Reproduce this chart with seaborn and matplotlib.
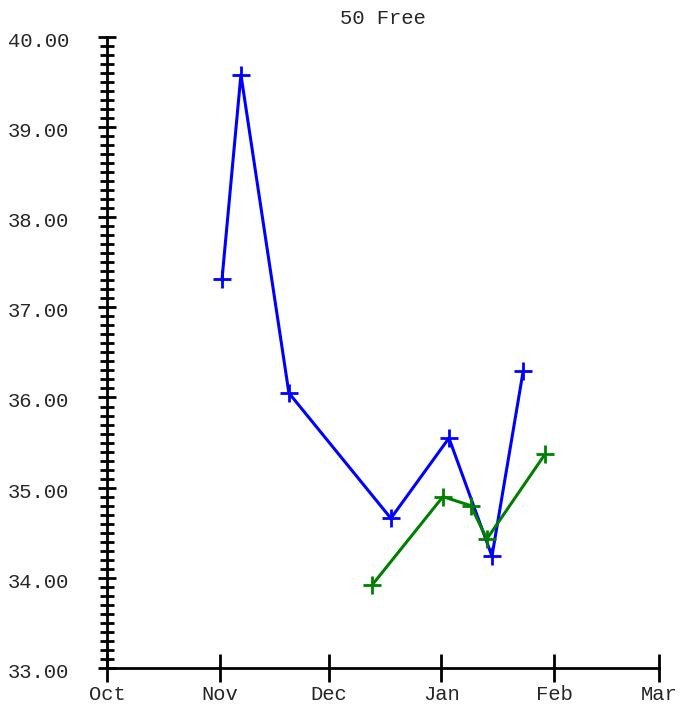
import matplotlib
matplotlib.use("Agg")
import matplotlib.dates as mdates
import matplotlib.pyplot as plt
import matplotlib.ticker as mticker
import matplotlib.transforms as mtransforms
import pandas as pd
import seaborn as sns

# race results, 50 free
blue_dates = ["2011-11-01 14:00", "2011-11-06 19:00", "2011-11-20 00:00", "2011-12-18 02:00",
              "2012-01-03 02:00", "2012-01-14 22:00", "2012-01-23 12:00"]
blue_times = [37.31, 39.58, 36.05, 34.66, 35.55, 34.24, 36.29]

green_dates = ["2011-12-12 22:00", "2012-01-01 10:00", "2012-01-09 02:00", "2012-01-13 12:00",
               "2012-01-29 12:00"]
green_times = [33.92, 34.90, 34.80, 34.43, 35.37]

month_ticks = ["2011-10-01", "2011-11-01", "2011-12-01", "2012-01-01", "2012-02-01", "2012-03-01"]
y_ticks = [33, 34, 35, 36, 37, 38, 39, 40]

df = pd.concat([
    pd.DataFrame({"date": pd.to_datetime(blue_dates), "time": blue_times, "swimmer": "a"}),
    pd.DataFrame({"date": pd.to_datetime(green_dates), "time": green_times, "swimmer": "b"}),
])

sns.set_style("white")
plt.rcParams["font.family"] = ["Liberation Mono", "DejaVu Sans Mono"]

fig = plt.figure(figsize=(6.8, 7.08), dpi=100)
ax = fig.add_axes([0.1578, 0.0565, 0.8118, 0.8915])

sns.lineplot(data=df, x="date", y="time", hue="swimmer", palette={"a": "#0000ff", "b": "#008000"},
             marker="+", markersize=13, markeredgewidth=2, linewidth=2.2, legend=False,
             sort=False, estimator=None, ax=ax)
# seaborn paints marker edges white, put the line colour back
for line in ax.lines:
    line.set_markeredgecolor(line.get_color())

ax.set_xlim(pd.Timestamp(month_ticks[0]), pd.Timestamp(month_ticks[-1]))
ax.set_ylim(y_ticks[0], y_ticks[-1])
ax.set_xticks(pd.to_datetime(month_ticks))
ax.xaxis.set_major_formatter(mdates.DateFormatter("%b"))
ax.set_yticks(y_ticks)
ax.yaxis.set_minor_locator(mticker.MultipleLocator(0.1))
ax.yaxis.set_major_formatter(mticker.FormatStrFormatter("%.2f"))

for side in ["top", "right"]:
    ax.spines[side].set_visible(False)
for side in ["left", "bottom"]:
    ax.spines[side].set_linewidth(2)
    ax.spines[side].set_color("black")

ax.tick_params(axis="y", which="major", direction="inout", length=13, width=2, pad=21,
               labelsize=14.8, left=True, color="black")
ax.tick_params(axis="y", which="minor", direction="inout", length=10, width=2, left=True, color="black")
ax.tick_params(axis="x", which="major", direction="inout", length=20, width=2, pad=2,
               labelsize=14.8, bottom=True, color="black")

# y labels sit a touch below their ticks in the original
shift = mtransforms.ScaledTranslation(0, -0.025, fig.dpi_scale_trans)
for label in ax.get_yticklabels():
    label.set_transform(label.get_transform() + shift)

ax.set_xlabel("")
ax.set_ylabel("")
ax.set_title("50 Free", fontsize=14.8, pad=9)

fig.savefig("out.png", dpi=100)
